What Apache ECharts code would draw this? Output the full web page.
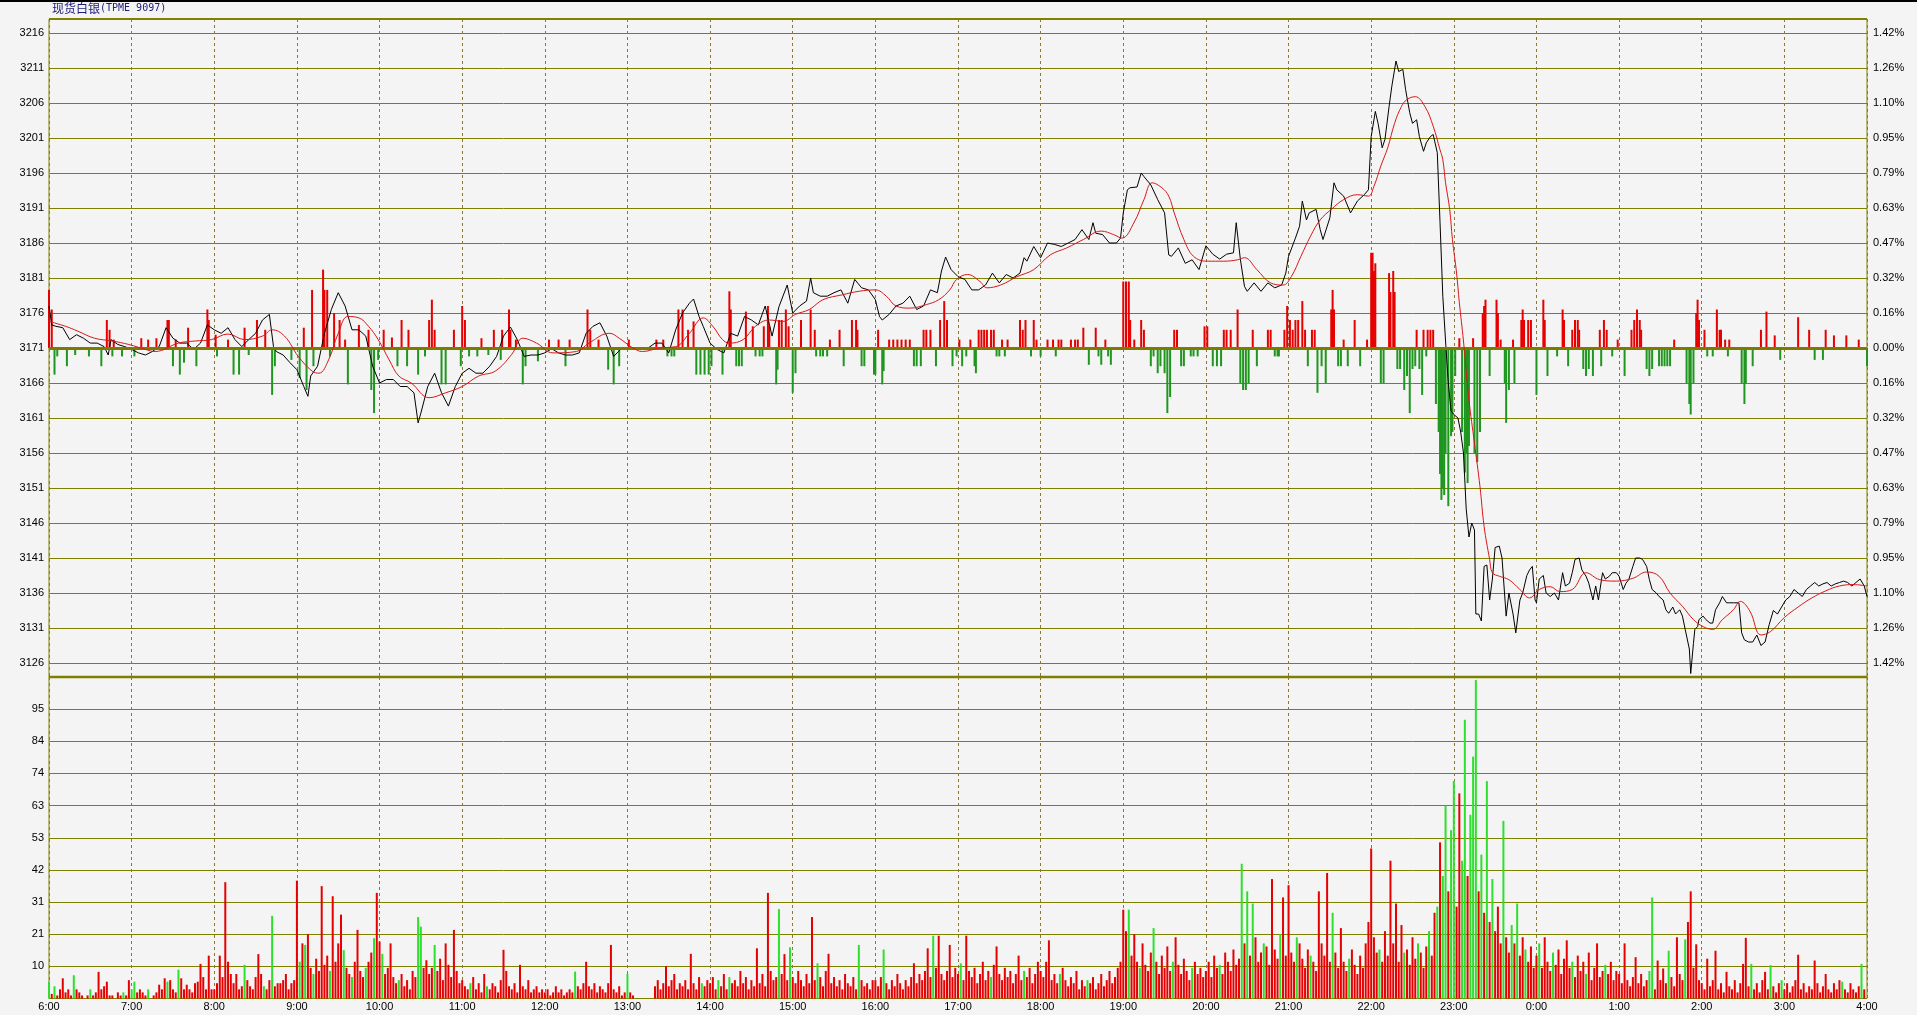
<!DOCTYPE html>
<html>
<head>
<meta charset="utf-8">
<title>现货白银(TPME 9097)</title>
<script src="https://cdn.jsdelivr.net/npm/echarts@6/dist/echarts.min.js"></script>
<style>
  html, body { margin: 0; padding: 0; background: #f4f4f4; }
  #chart { width: 1917px; height: 1015px; }
</style>
</head>
<body>
<div id="chart"></div>
<script>
// ----------data----------
// 昨收 (0.00% 基準線)
const prevClose = 3171;

// 橫軸時間 (06:00 ~ 隔日 04:00，每格 60 分鐘)
const hourLabels = ['6:00', '7:00', '8:00', '9:00', '10:00', '11:00', '12:00', '13:00', '14:00', '15:00',
  '16:00', '17:00', '18:00', '19:00', '20:00', '21:00', '22:00', '23:00', '0:00', '1:00', '2:00', '3:00', '4:00'];

// 右側漲跌幅刻度 (由 3126 往上)
const pctTicks = ['1.42%', '1.26%', '1.10%', '0.95%', '0.79%', '0.63%', '0.47%', '0.32%', '0.16%', '0.00%',
  '0.16%', '0.32%', '0.47%', '0.63%', '0.79%', '0.95%', '1.10%', '1.26%', '1.42%'];

// 成交量刻度
const volTicks = ['10', '21', '31', '42', '53', '63', '74', '84', '95'];

// 價格 [分鐘(自 6:00 起), 價格]
const pricePts = [
  [0,3177],[2,3174.3],[5,3174.1],[10,3173.9],[15,3172.2],[20,3172.9],[25,3172.4],[30,3171.7],[35,3171.7],[40,3171.2],
  [43,3170],[45,3172.2],[50,3171.5],[55,3171.2],[60,3170.8],[65,3170.3],[70,3170],[75,3170.5],[80,3171.2],[85,3173.9],
  [90,3172.4],[95,3171.7],[100,3171.7],[105,3170.8],[110,3171.7],[115,3174.3],[120,3173.6],[125,3173.1],[130,3173.9],[135,3172.2],
  [140,3171.2],[145,3172.2],[150,3173.1],[155,3175],[160,3175.8],[163,3171.2],[165,3170.5],[170,3170],[175,3168.9],[180,3167.9],
  [185,3165.5],[188,3164.1],[190,3167],[195,3168.4],[200,3173.1],[205,3176.5],[210,3178.9],[215,3177],[220,3173.6],[225,3173.6],
  [230,3172.7],[235,3168.4],[240,3166],[245,3166.5],[250,3166.5],[255,3165.5],[260,3165.5],[265,3164.6],[268,3160.3],[270,3161.7],
  [275,3165.5],[280,3167.4],[285,3164.6],[290,3162.7],[295,3165.5],[300,3167.4],[305,3168.1],[310,3167.4],[315,3167.4],[320,3168.4],
  [325,3169.8],[330,3172.7],[335,3174],[340,3172.2],[345,3169.8],[350,3170],[355,3170],[360,3170.3],[365,3170.9],[370,3170.3],
  [375,3170],[380,3170],[385,3170.3],[390,3173.1],[395,3174.1],[400,3174.6],[405,3172.7],[410,3169.8],[415,3170.8],[420,3171],
  [425,3171],[430,3171],[435,3171],[440,3171.7],[445,3171.7],[450,3170.3],[455,3173.6],[460,3176],[465,3177.4],[468,3178],
  [472,3175.5],[475,3174.1],[480,3171.7],[485,3170.8],[490,3170.3],[495,3173.1],[500,3172.7],[505,3175.5],[510,3175],[515,3174.3],
  [520,3177],[525,3172.7],[530,3176.9],[536,3180],[540,3176],[545,3177],[550,3177.7],[553,3181],[555,3178.9],[560,3178.4],
  [565,3178.4],[570,3178.9],[575,3179.3],[580,3177.4],[585,3180.8],[590,3179.6],[595,3179.3],[600,3177.9],[603,3175.5],[605,3175],
  [610,3175.8],[615,3177],[620,3177.4],[625,3178.4],[630,3176.5],[635,3177],[640,3179.3],[645,3178.9],[648,3182],[651,3184],
  [655,3182.2],[660,3181.2],[665,3180.8],[670,3179.3],[675,3179.3],[680,3180],[685,3181.7],[690,3180.3],[695,3181.5],[700,3181],
  [705,3181.7],[708,3183.9],[710,3183.4],[715,3185.5],[720,3183.9],[725,3186],[730,3185.8],[735,3185.5],[740,3186],[745,3186.5],
  [750,3187.9],[755,3186.5],[758,3188.9],[760,3187.4],[765,3187.2],[770,3186],[775,3186],[778,3186.7],[780,3190.3],[783,3193.6],
  [785,3193.9],[790,3194],[793,3196],[795,3195.5],[800,3194.3],[805,3192.2],[810,3190.3],[813,3184.3],[815,3184.1],[820,3185.3],
  [825,3183.1],[830,3183.6],[835,3182.2],[840,3185.6],[845,3184.4],[850,3183.7],[855,3184.4],[860,3184.6],[862,3188.9],[865,3183.7],
  [868,3179.8],[870,3179.1],[875,3180.3],[880,3179.1],[885,3180.3],[890,3179.6],[895,3180],[898,3181.7],[900,3184.1],[905,3186.7],
  [908,3188.4],[910,3192],[913,3189.3],[915,3190.3],[920,3190.8],[923,3187.9],[925,3186.5],[930,3189.6],[933,3194.6],[935,3193.6],
  [940,3192.7],[945,3190.3],[950,3192],[955,3192.9],[958,3193.6],[960,3201.2],[963,3204.8],[965,3203.1],[968,3199.6],[970,3200.8],
  [973,3205.5],[975,3208.4],[978,3212],[980,3210.5],[983,3210.8],[985,3207.9],[988,3204.6],[990,3203.1],[993,3203.6],[995,3201.2],
  [998,3199.1],[1000,3200.3],[1003,3201.2],[1005,3201.5],[1008,3198.9],[1010,3188.9],[1012,3178.4],[1014,3172],[1016,3166],[1018,3162],
  [1020,3161.5],[1023,3161],[1025,3159],[1027,3156],[1029,3148],[1031,3144],[1033,3146],[1035,3145],[1036,3133],[1038,3133],
  [1040,3132],[1042,3139.8],[1044,3140],[1046,3135],[1048,3138],[1050,3142.5],[1053,3142.7],[1055,3141],[1058,3132.7],[1060,3136],
  [1063,3133],[1065,3130.3],[1068,3135],[1070,3136],[1073,3138.5],[1075,3139.3],[1077,3139.8],[1079,3135],[1080,3134.6],[1082,3138],
  [1085,3138.5],[1087,3136],[1090,3135.5],[1093,3136],[1096,3135],[1099,3138.9],[1101,3137],[1104,3137.4],[1106,3138.9],[1108,3140.8],
  [1111,3141],[1113,3139.3],[1116,3138.4],[1118,3137.4],[1121,3135],[1123,3137],[1125,3135],[1128,3138.9],[1130,3138],[1133,3138.4],
  [1135,3138.9],[1138,3138.9],[1140,3138.4],[1143,3136.5],[1145,3137.4],[1147,3137.9],[1150,3139.8],[1152,3141],[1155,3141],[1157,3140.8],
  [1160,3139.8],[1162,3137.9],[1164,3136.5],[1167,3136],[1169,3135.5],[1172,3135],[1174,3133.6],[1176,3133.1],[1179,3134],[1181,3133],
  [1184,3133.6],[1186,3132.7],[1188,3130.8],[1191,3128],[1192,3124.5],[1194,3128.8],[1195,3130.8],[1197,3131.2],[1198,3132.2],[1201,3132.7],
  [1203,3132.2],[1206,3131.7],[1208,3131.7],[1210,3133.6],[1213,3134.6],[1215,3135.5],[1218,3134.6],[1220,3134.6],[1223,3134.6],[1227,3134.6],
  [1229,3130.3],[1231,3129.3],[1234,3129],[1237,3129],[1240,3130],[1243,3128.5],[1246,3129],[1249,3131.5],[1252,3133.5],[1255,3133],
  [1258,3134],[1261,3135],[1264,3135.5],[1267,3136.5],[1270,3136],[1273,3135.5],[1276,3136.5],[1279,3137],[1282,3137.5],[1285,3137],
  [1288,3137.3],[1291,3137.5],[1294,3137],[1297,3137.3],[1300,3137.5],[1303,3137.7],[1306,3137.5],[1309,3137],[1312,3137.5],[1315,3138],
  [1318,3137],[1320,3135.5]
];

// 均價線 [分鐘, 價格]
const maPts = [
  [0,3174.8],[12,3174.1],[21,3173.4],[33,3172.4],[46,3172],[58,3171.5],[70,3170.8],[77,3170.5],[94,3171.7],[106,3172],
  [118,3172.2],[130,3173],[142,3172.2],[155,3172.7],[162,3173.6],[171,3172.7],[181,3169.8],[191,3167.7],[196,3167.4],[203,3169.3],
  [210,3173.1],[217,3175.5],[225,3175.3],[232,3174.1],[239,3172.2],[247,3169.3],[254,3167],[263,3166],[276,3163.9],[288,3164.6],
  [300,3165.5],[312,3167],[324,3167.7],[336,3170.1],[344,3172.4],[354,3171.7],[366,3170.3],[383,3170.5],[392,3171.7],[407,3173.1],
  [414,3172.4],[424,3171],[431,3170.5],[443,3171],[455,3171.2],[465,3173.1],[475,3175.3],[482,3174.1],[489,3172.2],[494,3171.7],
  [504,3172.2],[513,3174.1],[523,3175],[533,3174.8],[542,3175.8],[552,3176.5],[562,3177.9],[576,3178.6],[588,3179.1],[600,3179.3],
  [608,3178.4],[615,3177],[625,3176.7],[637,3177.2],[646,3177.9],[654,3179.3],[659,3180.8],[667,3181.5],[676,3180.5],[681,3179.6],
  [691,3180],[703,3181.2],[715,3182.2],[727,3184.3],[739,3185.3],[751,3186.5],[764,3187.7],[773,3187.2],[779,3186.7],[788,3189],
  [795,3192.2],[801,3194.6],[808,3193.9],[813,3192.7],[817,3190.3],[824,3186.5],[831,3184.1],[841,3183.4],[853,3183.4],[863,3183.6],
  [868,3183.9],[877,3182.2],[887,3180.3],[896,3180],[902,3181.2],[909,3184.1],[916,3187],[923,3189.3],[931,3190.8],[940,3192.2],
  [950,3192.9],[958,3192.7],[962,3194.1],[967,3197],[972,3199.6],[977,3203.1],[982,3205.5],[986,3206.5],[992,3206.9],[999,3205.5],
  [1005,3202.7],[1010,3199.3],[1012,3197.9],[1014,3194.6],[1017,3190.8],[1019,3186.5],[1022,3181.7],[1024,3177.5],[1027,3172],[1031,3163.6],
  [1035,3157.4],[1039,3151.2],[1042,3145.5],[1046,3140.8],[1048,3138.9],[1053,3138.4],[1060,3137.9],[1068,3136.5],[1075,3135.3],[1082,3136.5],
  [1090,3136.9],[1097,3136.2],[1106,3136.5],[1116,3138.9],[1126,3137.9],[1138,3137.7],[1150,3138.1],[1160,3139],[1169,3138.4],[1177,3136],
  [1186,3134.1],[1194,3132.2],[1201,3131.2],[1208,3130.8],[1215,3132.2],[1223,3133.6],[1228,3134.8],[1235,3133.4],[1243,3130],[1250,3130.5],
  [1260,3132.5],[1270,3134],[1280,3135.3],[1290,3136.3],[1300,3137],[1310,3137.2],[1320,3137]
];

// 主圖紅綠柱 [分鐘, 相對 3171 的高度] (正 = 紅, 負 = 綠)
const deltaPts = [
  [0,8.3],[2,5.5],[4,-3.8],[6,-1.2],[13,-2.6],[19,-1],[29,-1.2],[38,-2.6],[42,4],[44,2.6],[46,-1.2],[47,1.2],[53,-1.2],
  [62,-1.2],[67,1.4],[72,1.2],[78,1.4],[86,4],[87,4],[90,-2.6],[92,1.2],[95,-3.8],[98,-2.1],[101,2.9],[107,-2.6],[115,5.5],
  [116,4],[121,1.9],[122,-1.2],[130,1.2],[134,-3.8],[138,-3.8],[142,2.9],[145,-1],[151,4],[157,2.6],[162,-6.7],[164,-2.6],
  [176,-1.7],[182,-4.3],[185,2.9],[187,-6],[191,8.3],[192,-2.6],[199,11.2],[200,8.3],[202,8.3],[204,-1.2],[207,5],[211,4],
  [215,1.2],[217,-5.2],[225,3.3],[232,2.6],[234,-6],[236,-9.3],[239,-1.7],[243,2.6],[249,1.5],[253,-2.6],[256,4],[260,-2.6],
  [261,2.6],[268,-3.8],[273,-1.2],[276,4],[278,6.9],[280,2.6],[285,-5.2],[288,-5.2],[294,2.6],[299,-2.6],[300,6],[302,4],
  [305,-1.2],[311,-1.2],[314,1.4],[319,-1],[323,2.6],[328,-1.7],[329,2.6],[334,5.5],
  [335,2.6],[339,1.2],[344,-5.2],[346,-2.6],[355,-1.9],[363,1.2],[370,1.2],[375,-2.6],[378,1.2],[391,5.5],[393,2.6],[399,1.2],
  [406,-3.1],[410,-5.2],[414,-2.6],[421,1.2],[441,1.2],[446,1.2],[449,-1.2],[452,-1.2],[454,-1.2],[457,5.5],[460,5.5],[464,2.6],
  [468,3.8],[470,-3.8],[473,-3.8],[476,-3.8],[479,-3.8],[481,-2.6],[489,-3.8],[494,8.1],[495,5.5],[499,-2.6],[501,-2.6],[503,-2.6],
  [506,5.2],[511,3.1],[513,-1.2],[516,-1.2],[518,-1.2],[519,3.1],[522,6],[523,3.1],[528,-5.2],[529,-3.1],[530,4],[532,4],
  [535,5.5],[537,3.1],[540,-6.4],[542,-3.6],[546,4],[553,5.5],[556,2.6],[557,-1.2],[560,-1.2],[562,-1.2],[565,-1.2],[567,1.2],
  [574,2.6],[577,-2.6],[583,4],[586,4],[587,2.6],[590,-2.6],[592,-2.6],[599,-3.8],[600,-3.8],[602,2.6],[605,-5.2],[606,-3.3],
  [610,1.2],[613,1.2],[616,1.2],[619,1.2],[622,1.2],[625,1.2],[628,-2.6],[630,-2.6],[633,-2.6],[635,2.6],[637,2.6],[640,2.6],
  [644,-2.6],[647,4],[650,6.7],[652,4],[656,-2.6],[659,-1.2],[661,1.2],[663,-2.6],[666,-1.2],[669,1.2],[672,-2.6],
  [673,-3.6],[675,2.6],[677,2.6],[679,2.6],[681,2.6],[684,2.6],[686,2.6],[688,-1.2],[690,-1.2],[692,1.2],[694,-1.2],[696,1.2],
  [705,4],[707,2.6],[709,4],[713,-1.2],[715,4],[717,1.2],[720,-1.2],[725,1.2],[729,1.2],[731,-1.2],[733,1.2],[735,1.2],
  [742,1.2],[745,1.2],[747,1.2],[751,2.9],[755,-2.4],[760,2.9],[762,-1.2],[764,-2.4],[767,1.2],[769,-1.2],[771,-2.4],
  [780,9.5],[782,9.5],[784,9.5],[785,4],[788,1.2],[793,4],[795,2.6],[800,-2.6],[802,-1.2],[805,-3.6],[807,-2.6],[810,-3.6],
  [812,-9.3],[814,-7],[817,2.6],[819,2.6],[822,-2.6],[824,-2.6],[829,-1.2],[831,-1.2],[834,-1.2],[839,3.1],[841,3.1],
  [845,-2.6],[848,-2.6],[851,-2.6],[853,2.6],[855,2.6],[858,2.6],[863,5.5],[865,-5],[867,-6],[869,-6],[871,-5],[874,2.6],
  [877,-2.6],[885,2.6],[887,2.6],[890,-1.2],[892,-1.2],[893,-1.2],[897,2.6],[899,6],[901,4],[903,2.6],[905,4],[907,4],
  [910,6.7],[912,2.6],[914,-2.6],[917,2.6],[919,2.6],[921,-6.4],[924,-2.6],[927,-5],[931,5.5],[932,8.3],[933,5.5],[936,-2.6],
  [938,-2.6],[940,1.2],[943,-2.6],[948,4],[952,-2.6],[957,1.2],[960,13.6],[961,13.6],[962,11],[963,12.1],[967,-5],[969,-5],
  [973,10.7],[974,8],[976,11],[977,8],[979,-3],[981,-3],[984,-6],[986,-4],[988,-9.3],[990,-3],[992,-2.6],[993,2.6],[995,-3],
  [997,-6.7],[998,2.6],[1000,-1.2],[1001,2.6],[1003,2.6],[1005,2.6],
  [1007,-8],[1009,-12],[1010,-18],[1011,-21.7],[1012,-20],[1013,-21],[1014,-15],[1016,-22.6],[1018,-12.6],[1019,-12],[1021,-4],
  [1024,1.4],[1026,-12],[1028,-17.8],[1029,-15],[1030,-19.3],[1031,-14],[1034,1.4],[1035,-15],[1037,-16.3],[1039,-12],[1041,5],
  [1042,6],[1043,6.9],[1046,-4],[1051,6.9],[1052,5],[1054,1.2],[1057,-5],[1058,-10.7],[1060,-6],[1063,1.2],[1064,-5],[1069,4],
  [1070,5.5],[1071,4],[1074,4],[1076,4],[1080,-6.7],[1085,6.9],[1086,4],[1088,-4],[1095,-1.2],[1099,5.5],[1100,4],[1103,-2.6],
  [1106,2.6],[1108,4],[1110,4],[1111,2.6],[1114,-3],[1116,-4],[1118,-3],[1121,-4],[1126,2.6],[1127,-2.6],[1129,4],[1131,2.6],
  [1135,-1.2],[1139,1.2],[1144,-4],[1149,2.6],[1151,4],[1153,5.5],[1155,4],[1156,2.6],[1160,-3],[1162,-4],[1164,-3],[1169,-2.6],
  [1171,-2.6],[1173,-2.6],[1175,-2.6],[1177,-2.6],[1180,1.2],[1189,-5],[1191,-8],[1192,-9.5],[1194,-5],[1196,5],[1197,6.9],
  [1198,4],[1202,2.6],[1204,-1.2],[1208,-1.2],[1211,5.5],[1213,2.6],[1214,2.6],[1217,1.2],[1219,-1.2],[1220,1.2],[1229,-5],
  [1231,-8],[1232,-5],[1237,-2.6],[1243,2.6],[1247,5.2],[1253,1.8],[1257,-1.7],[1270,4.4],[1278,2.6],[1282,-1.7],[1288,-1.7],
  [1290,2.6],[1296,1.8],[1305,1.8],[1314,1.2],[1320,-2.6]
];

// 成交量，每 2 分鐘一根 (負值 = 綠色下跌量)
const vol06 = [-5.5,1.5,-4,1,3,6.6,2,3,1,-7.6,3,2,1,0,1,-3,1,2,8.7,3,4,5.5,1,1,0,2,1,-2,1,6];
const vol07 = [-3,-5.5,2,3,2,1,-3,0,1,2,4.5,3,6.6,-5.5,6,3,2,-9.4,6.6,3,4.5,3,2,5,5.5,11.3,7,3,14,3];
const vol08 = [3,5,14,7,38,12,8,5,8,3,4,-11,6,4,3,7,14.5,8,-4,3,6,-27,4,5,5,6,8,3,5,6];
const vol09 = [38.5,-12,18,-17.5,21,10,-8,13,9,36.7,11,14,-9,33.4,12,18,27.4,-15.8,10,8,-7,12,22.4,9,7,-10,12,15,-19.7,34.5];
const vol10 = [18.6,-14.6,8,10,18,7,5,-6,8,4,6,3,9,7,-26.6,-23.5,10,12.5,8,10,-17.5,9,13,6,18,11,7,22.4,9,5];
const vol11 = [6,4,3,-5,7,3,5,2,8,-4,3,5,4,2,6,15.9,9,4,3,5,2,11,4,3,6,2,3,4,2,3];
const vol12 = [2,3,1,2,4,2,3,1,2,3,2,-8.8,4,3,5,12,4,3,5,2,4,3,2,5,17.5,3,2,4,1,2];
const vol13 = [-8,2,1,0,0,0,0,0,0,0,4,6,3,5,10.6,4,6,8,3,5,4,6,3,14.6,5,3,7,-5,4,6];
const vol14 = [5,7,3,-6,4,8,3,-7,5,6,4,9,5,7,3,6,4,16.4,5,8,4,34.5,9,6,7,-29.2,8,14.5,6,-16.7];
const vol15 = [7,5,9,6,4,8,5,26.6,6,-11.5,7,4,9,14.6,5,7,4,6,3,8,5,4,7,3,-17.5,6,4,5,3,6];
const vol16 = [6,4,7,-16,5,3,6,4,8,5,3,6,4,7,11.5,5,8,6,9,16.4,7,-20.5,10,20.5,8,6,9,17.5,7,10];
const vol17 = [8,-11.5,6,20.5,9,7,10,5,8,12,6,9,-7,11,17,8,6,10,7,9,5,8,14,6,-9,7,10,5,8,12];
const vol18 = [9,7,12,19,6,8,5,-8,10,6,4,7,5,9,3,6,4,-6,5,7,3,5,8,4,6,9,5,7,10,12];
const vol19 = [29,22,-29,14,21,12,-10,18,11,9,15,-23,12,8,14,10,17,9,-12,20,11,8,13,9,6,-10,12,8,10,7];
const vol20 = [9,12,7,14,10,-11,8,15,12,9,16,11,13,-44,18,-35,14,-31,20,12,15,-18,17,11,39,16,13,-21,33,14];
const vol21 = [37,15,12,-20,18,13,10,16,-14,12,9,35,18,14,41,12,-28,15,10,23,12,9,-13,16,11,8,14,10,18,25];
const vol22 = [49,20,15,-16,12,22,14,45,18,31,12,24,-15,16,11,20,13,-18,15,10,17,-22,14,28,-30,51,-40,-63,35,-55];
const vol23 = [-71,30,67,-45,-91,40,-60,-79,-104,35,-47,28,-71,25,-39,22,30,18,-58,20,15,-24,18,-31,14,20,-16,12,17,10];
const vol00 = [14,-18,10,20,12,9,-15,11,16,8,13,19,10,-12,7,14,9,12,-8,15,6,10,18,7,9,-11,8,12,6,9];
const vol01 = [8,5,18,6,4,7,13.5,5,8,4,6,-9,-33,3,12.4,6,9.8,5,-15.6,7,4,20,8,6,-19.3,25,35,10,17.7,6];
const vol02 = [5,3,13,4,6,15.6,3,5,2,8.7,4,3,6,2,5,11.3,19.8,4,-11.3,3,5,2,6,8.7,3,-10.9,4,2,5,-6];
const vol03 = [3,5,2,4,6,14.3,3,5,2,4,3,12.4,5,2,4,8,3,2,5,3,6,-5.5,3,2,5,3,2,4,-11.3,3];
// ---------------------------

// ----------style----------
const OLIVE = '#808000';
const DASH = '#8a7838';
const FONT = 'Liberation Sans';
const RED = '#e60000';
const GREEN_MAIN = '#1f961f';
const GREEN_VOL = '#2ee02e';
// ------------------------

const volAll = [].concat(vol06, vol07, vol08, vol09, vol10, vol11, vol12, vol13, vol14, vol15, vol16, vol17,
  vol18, vol19, vol20, vol21, vol22, vol23, vol00, vol01, vol02, vol03);
const volData = volAll.map((v, i) => [i * 2, Math.abs(v), v < 0 ? -1 : 1]);

const chart = echarts.init(document.getElementById('chart'), null, { renderer: 'canvas' });

const hourAxis = (gridIndex, showLabel) => ({
  type: 'value',
  gridIndex,
  min: 0,
  max: 1320,
  interval: 60,
  axisLine: { show: false },
  axisTick: { show: false },
  axisLabel: {
    show: showLabel,
    margin: 3,
    fontSize: 11,
    fontFamily: FONT,
    color: '#000',
    formatter: (v) => hourLabels[Math.round(v / 60)] || '',
  },
  splitLine: {
    show: gridIndex !== 1,
    lineStyle: { color: DASH, type: [3, 3], width: 1 },
  },
});

const option = {
  animation: false,
  backgroundColor: '#f4f4f4',
  grid: [
    // 主圖外框 (含紅綠柱)
    { left: 49, top: 19, width: 1818, height: 658, show: true, borderColor: OLIVE, borderWidth: 1, backgroundColor: 'transparent' },
    // 價格刻度區 3126 ~ 3216
    { left: 49, top: 33, width: 1818, height: 630 },
    // 成交量
    { left: 49, top: 677, width: 1818, height: 321.5, show: true, borderColor: OLIVE, borderWidth: 1, backgroundColor: 'transparent' },
  ],
  xAxis: [hourAxis(0, false), hourAxis(1, false), hourAxis(2, true)],
  yAxis: [
    { type: 'value', gridIndex: 0, min: -47, max: 47, show: false },
    {
      type: 'value', gridIndex: 1, min: 3126, max: 3216, interval: 5, position: 'left',
      axisLine: { show: false }, axisTick: { show: false },
      axisLabel: { margin: 5, fontSize: 11, fontFamily: FONT, color: '#000', formatter: (v) => String(Math.round(v)) },
      splitLine: { lineStyle: { color: OLIVE, width: 1 } },
    },
    {
      type: 'value', gridIndex: 1, min: 3126, max: 3216, interval: 5, position: 'right',
      axisLine: { show: false }, axisTick: { show: false },
      axisLabel: {
        margin: 6, fontSize: 11, fontFamily: FONT, color: '#000',
        formatter: (v) => pctTicks[Math.round((v - 3126) / 5)] || '',
      },
      splitLine: { show: false },
    },
    {
      type: 'value', gridIndex: 2, min: 0, max: 105, interval: 10.5,
      axisLine: { show: false }, axisTick: { show: false },
      axisLabel: {
        margin: 5, fontSize: 11, fontFamily: FONT, color: '#000',
        formatter: (v) => volTicks[Math.round(v / 10.5) - 1] || '',
      },
      splitLine: { lineStyle: { color: OLIVE, width: 1 } },
    },
  ],
  series: [
    {
      name: '紅綠柱',
      type: 'bar',
      xAxisIndex: 0,
      yAxisIndex: 0,
      barWidth: 2,
      data: deltaPts,
      itemStyle: { color: (p) => (p.data[1] < 0 ? GREEN_MAIN : RED) },
      markLine: {
        silent: true,
        symbol: 'none',
        label: { show: false },
        lineStyle: { color: '#7c7a00', width: 3, type: 'solid' },
        data: [{ yAxis: 0 }],
      },
      z: 2,
    },
    {
      name: '價格',
      type: 'line',
      xAxisIndex: 1,
      yAxisIndex: 1,
      data: pricePts,
      showSymbol: false,
      clip: false,
      lineStyle: { color: '#000', width: 1 },
      z: 4,
    },
    {
      name: '均價',
      type: 'line',
      xAxisIndex: 1,
      yAxisIndex: 1,
      data: maPts,
      smooth: 0.4,
      showSymbol: false,
      clip: false,
      lineStyle: { color: '#d81818', width: 1 },
      z: 5,
    },
    {
      name: '成交量',
      type: 'bar',
      xAxisIndex: 2,
      yAxisIndex: 3,
      barWidth: 2,
      data: volData,
      encode: { x: 0, y: 1 },
      itemStyle: { color: (p) => (p.data[2] < 0 ? GREEN_VOL : RED) },
      z: 2,
    },
  ],
  graphic: [
    { type: 'rect', shape: { x: 0, y: 0, width: 1917, height: 2 }, style: { fill: '#000' }, z: 10 },
    { type: 'line', shape: { x1: 49, y1: 19, x2: 1867, y2: 19 }, style: { stroke: OLIVE, lineWidth: 2 }, z: 10 },
    { type: 'line', shape: { x1: 49, y1: 677, x2: 1867, y2: 677 }, style: { stroke: OLIVE, lineWidth: 2.5 }, z: 10 },
    {
      type: 'text',
      left: 52,
      top: 2,
      z: 10,
      style: {
        text: '{a|现货白银}{b|(TPME 9097)}',
        rich: {
          a: { fontSize: 12, fontFamily: 'Noto Sans CJK SC', fill: '#1b1b7a' },
          b: { fontSize: 10, fontFamily: 'DejaVu Sans Mono', fill: '#1b1b7a' },
        },
      },
    },
  ],
};

chart.setOption(option);
</script>
</body>
</html>
